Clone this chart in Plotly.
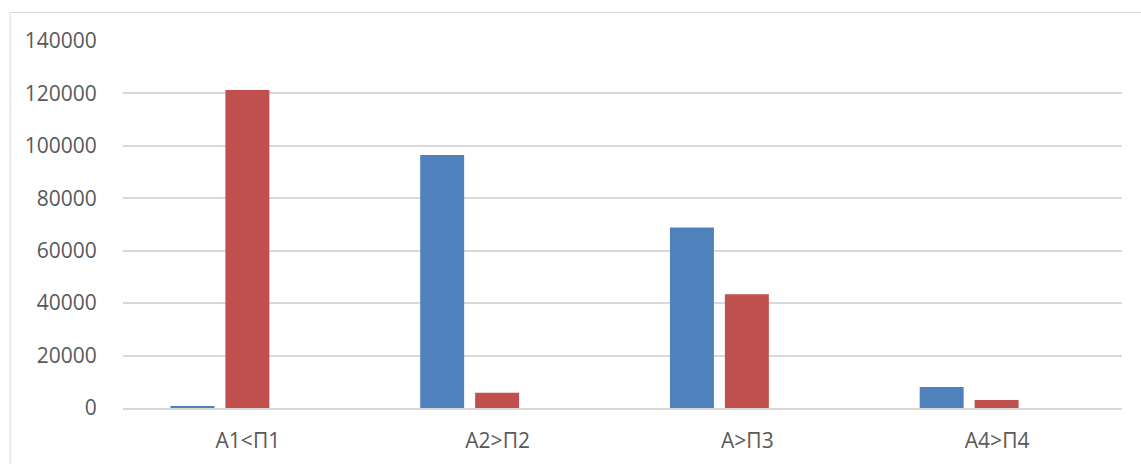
import plotly.graph_objects as go

categories = ["А1<П1", "А2>П2", "А>П3", "А4>П4"]
series_a = [500, 96500, 68900, 8000]
series_p = [121300, 5850, 43400, 3050]
y_ticks = [0, 20000, 40000, 60000, 80000, 100000, 120000, 140000]

W, H = 1141, 464
L, R, T, B = 122.5, 18.5, 41, 56
pw, ph = W - L - R, H - T - B

fig = go.Figure()
fig.add_trace(go.Bar(x=categories, y=series_a, marker_color="#4F81BD",
                     width=0.176, offset=-0.31, marker_line_width=0))
fig.add_trace(go.Bar(x=categories, y=series_p, marker_color="#C0504D",
                     width=0.176, offset=-0.09, marker_line_width=0))

font_family = "Open Sans, Noto Sans, sans-serif"
fig.update_layout(
    width=W, height=H,
    margin=dict(l=L, r=R, t=T, b=B, pad=0, autoexpand=False),
    plot_bgcolor="white", paper_bgcolor="white",
    showlegend=False,
    font=dict(family=font_family, size=21, color="#595959"),
    xaxis=dict(range=[-0.5, 3.5], showgrid=False, zeroline=False,
               showline=True, linecolor="#d9d9d9", linewidth=1.5,
               automargin=False,
               ticks="outside", ticklen=13, tickcolor="rgba(0,0,0,0)",
               tickfont=dict(size=21, color="#595959")),
    yaxis=dict(range=[0, 140000], tickvals=y_ticks, tickformat="d",
               showgrid=True, gridcolor="#d9d9d9", gridwidth=1.5,
               zeroline=False, showline=False, automargin=False,
               ticks="outside", ticklen=21, tickcolor="rgba(0,0,0,0)",
               tickfont=dict(size=21, color="#595959")),
)

fig.add_shape(type="rect", xref="paper", yref="paper",
              x0=(9.5 - L) / pw, x1=(W + 5 - L) / pw,
              y0=-(H + 10 - (T + ph)) / ph, y1=(T + ph - 12.5) / ph,
              line=dict(color="#d9d9d9", width=1), fillcolor="rgba(0,0,0,0)",
              layer="below")

fig.write_html("out.html")
